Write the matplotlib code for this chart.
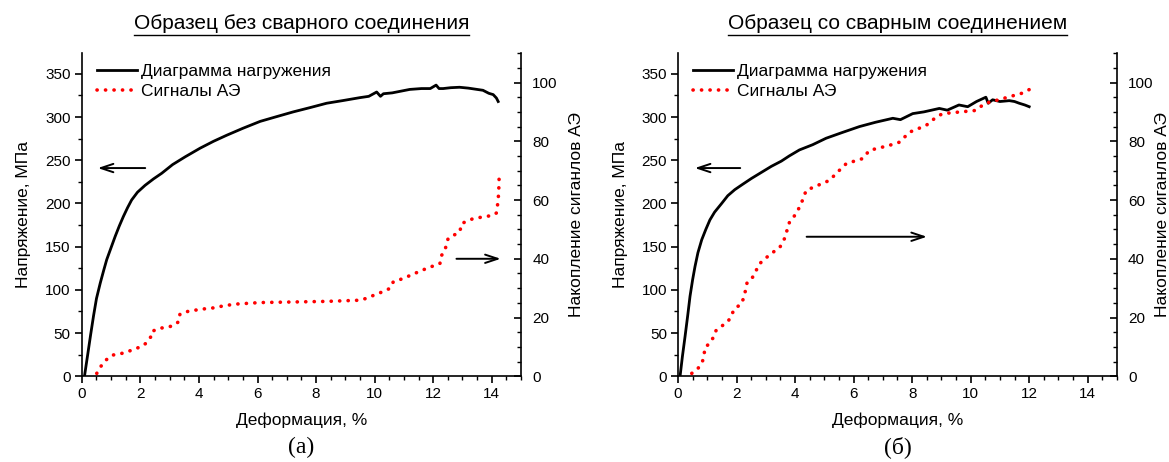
import matplotlib
matplotlib.use('Agg')
import matplotlib.pyplot as plt
from matplotlib.ticker import MultipleLocator
from matplotlib.lines import Line2D

plt.rcParams['font.family'] = ['Liberation Sans', 'DejaVu Sans']

# ---------------- данные ----------------
# (а) образец без сварного соединения
strain_a = [0.09, 0.20, 0.30, 0.40, 0.50, 0.63, 0.75, 0.85, 1.00, 1.14, 1.28, 1.42, 1.56, 1.70,
            1.90, 2.16, 2.45, 2.73, 3.10, 3.53, 4.04,
            4.50, 4.95, 5.50, 6.09, 6.60, 7.22, 7.80, 8.36, 8.90,
            9.50, 9.80, 10.07, 10.20, 10.30, 10.60, 10.90, 11.20, 11.60, 11.90, 12.10, 12.20,
            12.34, 12.60, 12.90, 13.20, 13.50, 13.70, 13.90, 14.05, 14.16, 14.22]
stress_a = [0, 25, 48, 70, 90, 108, 123, 135, 149, 162, 174, 185, 195, 204,
            213, 221, 228.5, 235, 245, 254, 264,
            272, 279, 287, 295, 300, 306, 311, 316, 319,
            322.5, 324, 329, 324, 327, 328, 330, 332, 333, 333, 337, 333,
            333, 334, 334.5, 333.5, 332, 331, 327.5, 326, 322, 318]
strain_ae_a = [0.51, 0.66, 0.82, 1.04, 1.28, 1.53, 1.79, 2.04, 2.21, 2.36, 2.38, 2.63, 2.90, 3.12,
               3.31, 3.35, 3.58, 4.04, 4.60, 4.83, 5.29, 6.09, 8.36, 9.50, 9.67, 9.90, 10.18,
               10.52, 10.64, 10.98, 11.32, 11.77, 12.23, 12.29, 12.40, 12.51, 12.91, 12.97, 13.37,
               14.05, 14.16, 14.22, 14.25, 14.25]
ae_a = [1, 3.5, 5.5, 7.2, 7.6, 8.2, 9.3, 10.1, 11.4, 13.5, 15.2, 16.3, 16.7, 17.2,
        18.6, 21.1, 22, 22.8, 23.4, 24, 24.6, 25.1, 25.5, 25.9, 26.4, 27.3, 28.4,
        29.9, 32.2, 33.3, 34.8, 36.7, 38.4, 41.2, 42.9, 46.9, 49.2, 52, 53.7,
        54.8, 55.6, 59.9, 65.6, 67.8]

# (б) образец со сварным соединением
strain_b = [0.07, 0.15, 0.24, 0.33, 0.41, 0.50, 0.58, 0.68, 0.81, 0.95, 1.09, 1.25, 1.49, 1.70,
            1.94, 2.20, 2.51, 2.85, 3.19, 3.53, 3.80, 4.15,
            4.60, 5.06, 5.60, 6.20, 6.75, 7.34, 7.60,
            8.02, 8.40, 8.93, 9.20, 9.60, 9.90, 10.20, 10.52, 10.60, 10.75, 11.00, 11.32,
            11.50, 11.66, 11.85, 12.00]
stress_b = [0, 23, 46, 70, 92.6, 112, 127, 143, 158, 170, 181, 190, 200, 209,
            216, 222, 229, 236, 243, 249, 255, 262,
            268, 275.5, 282, 289, 294, 298.6, 297,
            304, 306, 310, 308, 314, 312, 318, 323, 316, 320, 318, 319,
            318, 316, 314, 312]
strain_ae_b = [0.47, 0.67, 0.83, 0.89, 0.92, 1.09, 1.24, 1.30, 1.51, 1.72, 1.83, 1.95, 2.17, 2.25,
               2.31, 2.36, 2.52, 2.65, 2.72, 2.88, 3.08, 3.31, 3.48, 3.64, 3.81, 4.04, 4.21,
               4.38, 4.78, 5.18, 5.40, 5.75, 6.31, 6.54, 7.22, 7.57, 7.91, 8.48, 8.82, 9.04,
               10.18, 10.47, 11.09, 11.77, 12.12]
ae_b = [1, 2.5, 4.8, 7.3, 9.8, 11.3, 13.8, 15.6, 17.2, 18.8, 21, 23.2, 24.6, 27,
        29.4, 31.9, 33.3, 35.3, 37.4, 39.3, 40.9, 42.7, 43.9, 46.9, 52.5, 55.4, 58.8,
        63.3, 65, 66.7, 69, 72.4, 74.1, 76.9, 78.6, 79.7, 83.1, 85.4, 88.2, 89.4,
        90.5, 92.8, 94.5, 96.4, 98.2]

titles = ['Образец без сварного соединения', 'Образец со сварным соединением']
letters = ['(а)', '(б)']

# стрелки: (x_from, x_to, y, ось 'l' или 'r')
arrows_a = [(2.26, 0.45, 241, 'l'), (12.7, 14.4, 40, 'r')]
arrows_b = [(2.22, 0.48, 241, 'l'), (4.3, 8.6, 47.5, 'r')]

# ---------------- рисунок ----------------
fig = plt.figure(figsize=(11.69, 4.62), dpi=100)
boxes = [[0.070, 0.1855, 0.3757, 0.6995], [0.580, 0.1855, 0.3755, 0.6995]]
right_pads = [8, 1]

panels = [(strain_a, stress_a, strain_ae_a, ae_a, arrows_a),
          (strain_b, stress_b, strain_ae_b, ae_b, arrows_b)]

for i, (sx, sy, ax_x, ax_y, arrs) in enumerate(panels):
    ax = fig.add_axes(boxes[i])
    ax2 = ax.twinx()

    l1, = ax.plot(sx, sy, color='black', lw=2.0, solid_joinstyle='round')
    l2, = ax2.plot(ax_x, ax_y, color='red', lw=2.6, linestyle=(0, (0.05, 2.3)),
                   dash_capstyle='round')

    ax.set_xlim(0, 15)
    ax.set_ylim(0, 374)
    ax2.set_ylim(0, 110)

    ax.xaxis.set_major_locator(MultipleLocator(2))
    ax.xaxis.set_minor_locator(MultipleLocator(0.5))
    ax.yaxis.set_major_locator(MultipleLocator(50))
    ax.yaxis.set_minor_locator(MultipleLocator(25))
    ax2.yaxis.set_major_locator(MultipleLocator(20))
    ax2.yaxis.set_minor_locator(MultipleLocator(5))

    for a in (ax, ax2):
        a.spines['top'].set_visible(False)
        for s in a.spines.values():
            s.set_linewidth(1.2)
    ax.spines['right'].set_visible(False)
    ax2.spines['left'].set_visible(False)
    ax2.spines['bottom'].set_visible(False)

    ax.tick_params(which='major', direction='out', length=5, width=1.2, labelsize=11, pad=3)
    ax.tick_params(which='minor', direction='out', length=3, width=1.0)
    ax2.tick_params(which='major', direction='in', length=5, width=1.2, labelsize=11, pad=8)
    ax2.tick_params(which='minor', direction='in', length=3, width=1.0)

    ax.set_xlabel('Деформация, %', fontsize=12.5, labelpad=8)
    ax.set_ylabel('Напряжение, МПа', fontsize=12.5, labelpad=10)
    ax2.set_ylabel('Накопление сиганлов АЭ', fontsize=12.5, labelpad=right_pads[i])

    ax.legend([l1, l2], ['Диаграмма нагружения', 'Сигналы АЭ'], loc='upper left',
              frameon=False, fontsize=12.5, handlelength=2.3, handletextpad=0.25,
              borderaxespad=0.2, labelspacing=0.3, bbox_to_anchor=(0.01, 1.0))

    for x0, x1, y, side in arrs:
        tgt = ax if side == 'l' else ax2
        tgt.annotate('', xy=(x1, y), xytext=(x0, y),
                     arrowprops=dict(arrowstyle='->,head_length=0.9,head_width=0.3',
                                     color='black', lw=1.4))

    # заголовок с подчёркиванием
    cx = boxes[i][0] + boxes[i][2] / 2
    fig.text(cx, 0.950, titles[i], ha='center', va='center', fontsize=15)
    fig.text(cx, 0.032, letters[i], ha='center', va='center', fontsize=17,
             family=['Liberation Serif', 'DejaVu Serif'])

fig.canvas.draw()
renderer = fig.canvas.get_renderer()
for t in fig.texts:
    if t.get_text() in titles:
        bb = t.get_window_extent(renderer).transformed(fig.transFigure.inverted())
        fig.add_artist(Line2D([bb.x0, bb.x1], [bb.y0 - 0.006, bb.y0 - 0.006],
                              color='black', lw=1.0, transform=fig.transFigure))

fig.savefig('out.png', dpi=100)
